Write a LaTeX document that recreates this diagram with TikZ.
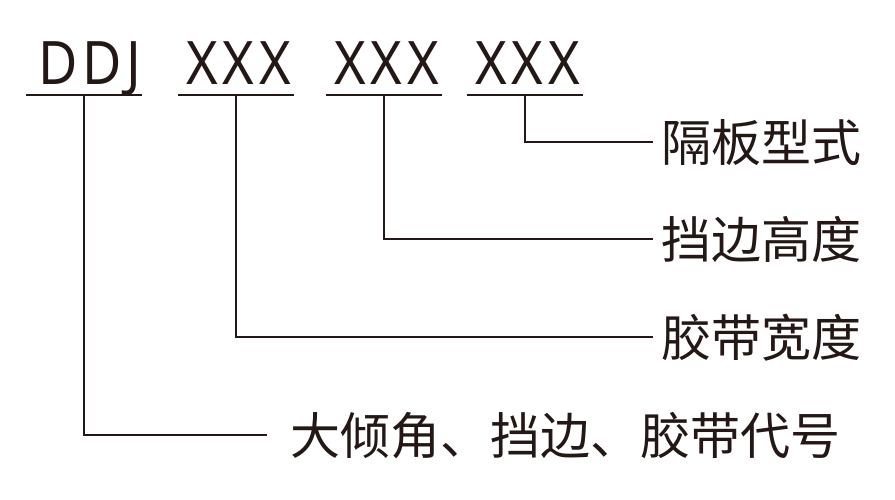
\documentclass[tikz,border=0pt]{standalone}
\usepackage{fontspec}
\setmainfont{Noto Sans}
\newfontfamily\latin[FakeStretch=0.9,LetterSpace=8]{Noto Sans}
\newfontfamily\cjk{Noto Sans CJK SC}
\definecolor{ink}{HTML}{231815}
\begin{document}
\begin{tikzpicture}[x=1pt,y=-1pt,
  line/.style={draw=ink,line width=2.2pt},
  code/.style={inner sep=0pt,text depth=11pt,minimum width=116pt,anchor=base,
    font=\latin\fontsize{60}{60}\selectfont,text=ink},
  lab/.style={inner ysep=0pt,inner xsep=8pt,text height=40pt,text depth=1pt,anchor=west,
    font=\cjk\fontsize{50}{50}\selectfont,text=ink}]
\useasboundingbox (0,0) rectangle (895,499);
% codes
\node[code] (ddj) at (84,84) {\hspace*{12pt}DDJ};
\node[code] (x1) at (236,84) {\hspace*{5pt}XXX};
\node[code] (x2) at (384,84) {\hspace*{5pt}XXX};
\node[code] (x3) at (525,84) {\hspace*{5pt}XXX};
\foreach \n in {ddj,x1,x2,x3}{
  \draw[line] (\n.south west) -- (\n.south east);
}
% labels
\node[lab] (l1) at (653,142) {隔板型式};
\node[lab] (l2) at (653,239) {挡边高度};
\node[lab] (l3) at (653,337) {胶带宽度};
\node[lab,inner xsep=23pt] (l4) at (267,435) {大倾角、挡边、胶带代号};
% connectors
\draw[line] (x3.south) |- (l1.west);
\draw[line] (x2.south) |- (l2.west);
\draw[line] (x1.south) |- (l3.west);
\draw[line] (ddj.south) |- (l4.west);
\end{tikzpicture}
\end{document}
